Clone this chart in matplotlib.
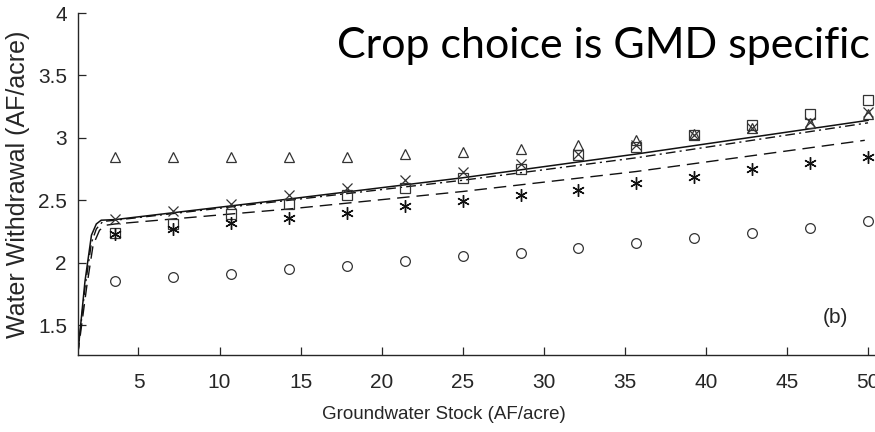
import numpy as np
import matplotlib
matplotlib.use("Agg")
import matplotlib.pyplot as plt

# groundwater stock at the simulated points (AF/acre)
stock = [3.57, 7.14, 10.71, 14.29, 17.86, 21.43, 25.0,
         28.57, 32.14, 35.71, 39.29, 42.86, 46.43, 50.0]

# water withdrawal per marker series (AF/acre)
w_triangle = [2.85, 2.85, 2.85, 2.85, 2.85, 2.87, 2.89,
              2.91, 2.94, 2.98, 3.03, 3.08, 3.12, 3.19]
w_square = [2.24, 2.31, 2.39, 2.47, 2.54, 2.60, 2.68,
            2.75, 2.86, 2.93, 3.02, 3.10, 3.19, 3.30]
w_cross = [2.35, 2.41, 2.47, 2.54, 2.60, 2.66, 2.73,
           2.79, 2.87, 2.94, 3.02, 3.08, 3.13, 3.21]
w_star = [2.23, 2.27, 2.32, 2.36, 2.40, 2.45, 2.49,
          2.54, 2.58, 2.64, 2.69, 2.75, 2.80, 2.85]
w_circle = [1.85, 1.885, 1.91, 1.95, 1.97, 2.01, 2.05,
            2.08, 2.12, 2.16, 2.20, 2.24, 2.28, 2.33]

# fitted curves
solid_x = [1.25, 1.7, 2.1, 2.4, 2.7, 3.57, 14.3, 25.0, 35.7, 50.0]
solid_y = [1.26, 1.85, 2.22, 2.31, 2.34, 2.345, 2.51, 2.68, 2.87, 3.14]
dashdot_x = [1.25, 1.7, 2.1, 2.4, 2.8, 3.57, 14.3, 25.0, 35.7, 50.0]
dashdot_y = [1.26, 1.80, 2.16, 2.27, 2.33, 2.34, 2.50, 2.66, 2.84, 3.12]
dashed_x = [1.25, 1.8, 2.2, 2.6, 3.0, 3.57, 14.3, 25.0, 35.7, 49.8]
dashed_y = [1.26, 1.80, 2.14, 2.26, 2.30, 2.31, 2.43, 2.57, 2.73, 2.98]

plt.rcParams['font.family'] = ['Liberation Sans', 'DejaVu Sans']

fig = plt.figure(figsize=(8.75, 4.32), dpi=100)
ax = fig.add_axes([78 / 875, 77 / 432, 1 - 78 / 875, (355 - 13) / 432])

line_col = '#111111'
mk_col = '#333333'

ax.plot(solid_x, solid_y, '-', color=line_col, lw=1.1)
ax.plot(dashdot_x, dashdot_y, color=line_col, lw=1.0, dashes=(7, 3, 1.5, 3))
ax.plot(dashed_x, dashed_y, color=line_col, lw=1.0, dashes=(9, 5))

mk = dict(linestyle='none', markerfacecolor='none', markeredgecolor=mk_col,
          markeredgewidth=0.9, markersize=7)
ax.plot(stock, w_triangle, marker='^', **mk)
ax.plot(stock, w_square, marker='s', **mk)
ax.plot(stock, w_cross, marker='x', **mk)
ax.plot(stock, w_star, marker=(6, 2, 0), linestyle='none', color=line_col,
        markeredgewidth=1.0, markersize=9)
ax.plot(stock, w_circle, marker='o', **mk)

ax.set_xlim(1.27, 50.43)
ax.set_ylim(1.26, 4.0)
ax.set_xticks([5, 10, 15, 20, 25, 30, 35, 40, 45, 50])
ax.set_yticks([1.5, 2, 2.5, 3, 3.5, 4])
ax.set_yticklabels(['1.5', '2', '2.5', '3', '3.5', '4'])

for side in ['top', 'right']:
    ax.spines[side].set_visible(False)
for side in ['left', 'bottom']:
    ax.spines[side].set_color('#262626')
    ax.spines[side].set_linewidth(1.0)
ax.tick_params(direction='in', length=6, width=0.9, colors='#262626',
               labelsize=15)
ax.tick_params(axis='x', pad=13)
ax.tick_params(axis='y', pad=8)

ax.set_xlabel('Groundwater Stock (AF/acre)', fontsize=13.5, color='#262626')
ax.xaxis.set_label_coords(0.459, -0.15)
ax.set_ylabel('Water Withdrawal (AF/acre)', fontsize=18, color='#262626',
              labelpad=6)

ax.text(48.0, 1.56, '(b)', fontsize=15, color='#262626',
        ha='center', va='center')

fig.text(870 / 875, 1 - 46 / 432, 'Crop choice is GMD specific',
         fontsize=31, family=['Lato', 'DejaVu Sans'], color='black',
         ha='right', va='center')

fig.savefig('out.png', dpi=100)
